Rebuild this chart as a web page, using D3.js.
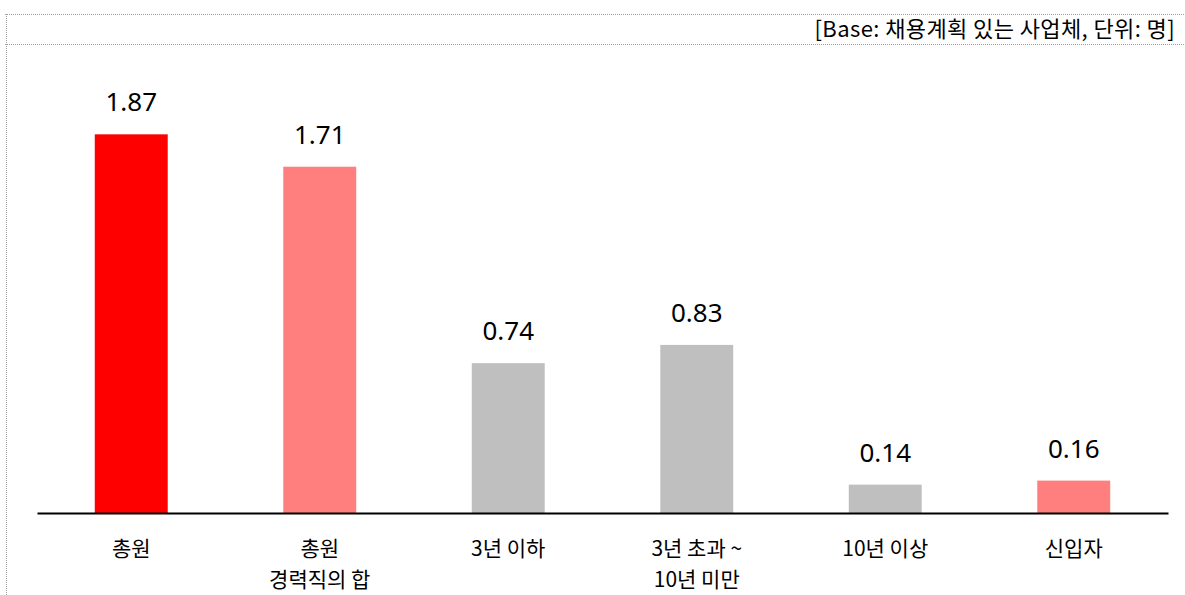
<!DOCTYPE html>
<html>
<head>
<meta charset="utf-8">
<script src="https://cdn.jsdelivr.net/npm/d3@7"></script>
<style>
  body { margin: 0; background: #fff; }
  svg { display: block; font-family: "Noto Sans CJK KR", "Noto Sans", sans-serif; }
</style>
</head>
<body>
<div id="chart"></div>
<script>
"use strict";
// categories, one entry per line of the label
var categories = [["총원"], ["총원", "경력직의 합"], ["3년 이하"], ["3년 초과 ~", "10년 미만"], ["10년 이상"], ["신입자"]];
var values = [1.87, 1.71, 0.74, 0.83, 0.14, 0.16];
var valueLabels = ["1.87", "1.71", "0.74", "0.83", "0.14", "0.16"];
var barColors = ["#ff0000", "#ff7f7f", "#bfbfbf", "#bfbfbf", "#bfbfbf", "#ff7f7f"];
var note = "[Base: 채용계획 있는 사업체, 단위: 명]";

var w = 1185,
  h = 595;

var svg = d3
  .select("#chart")
  .append("svg")
  .attr("width", w)
  .attr("height", h);

//dotted frame lines
var dot = { stroke: "#a0a0a0", "stroke-width": 1, "stroke-dasharray": "1,1" };
function dotted(x1, y1, x2, y2) {
  var l = svg.append("line").attr("x1", x1).attr("y1", y1).attr("x2", x2).attr("y2", y2);
  Object.keys(dot).forEach(function(k) { l.attr(k, dot[k]); });
}
dotted(5, 14.5, w, 14.5);
dotted(5, 44.5, w, 44.5);
dotted(6.5, 14, 6.5, h);

svg
  .append("text")
  .attr("x", 1175)
  .attr("y", 37)
  .attr("text-anchor", "end")
  .style("font-size", "22px")
  .style("letter-spacing", "0.4px")
  .attr("fill", "#000")
  .text(note);

var x = d3
  .scaleBand()
  .domain(d3.range(values.length))
  .range([37, 1168])
  .paddingInner(0.613)
  .paddingOuter(0.3065);

var y = d3
  .scaleLinear()
  .domain([0, 2])
  .range([513, 108]);

svg
  .append("g")
  .selectAll("rect")
  .data(values)
  .join("rect")
  .attr("x", function(d, i) { return x(i); })
  .attr("y", function(d) { return y(d); })
  .attr("width", x.bandwidth())
  .attr("height", function(d) { return y(0) - y(d); })
  .attr("fill", function(d, i) { return barColors[i]; });

svg
  .append("g")
  .selectAll("text")
  .data(values)
  .join("text")
  .attr("x", function(d, i) { return x(i) + x.bandwidth() / 2; })
  .attr("y", function(d) { return y(d) - 23; })
  .attr("text-anchor", "middle")
  .style("font-family", "'Noto Sans', sans-serif")
  .style("font-size", "26px")
  .attr("fill", "#000")
  .text(function(d, i) { return valueLabels[i]; });

//axis line, no ticks
var axis = svg
  .append("g")
  .attr("transform", "translate(0," + y(0) + ")")
  .call(d3.axisBottom(x).tickSize(0).tickFormat(""));
axis.select(".domain").attr("stroke", "#000").attr("stroke-width", 2);

var cat = svg
  .append("g")
  .selectAll("text")
  .data(categories)
  .join("text")
  .attr("x", function(d, i) { return x(i) + x.bandwidth() / 2; })
  .attr("y", 556)
  .attr("text-anchor", "middle")
  .style("font-size", "21px")
  .attr("fill", "#000");

cat
  .selectAll("tspan")
  .data(function(d) { return d; })
  .join("tspan")
  .attr("x", function() { return d3.select(this.parentNode).attr("x"); })
  .attr("dy", function(d, i) { return i === 0 ? 0 : 30.5; })
  .text(function(d) { return d; });
</script>
</body>
</html>
